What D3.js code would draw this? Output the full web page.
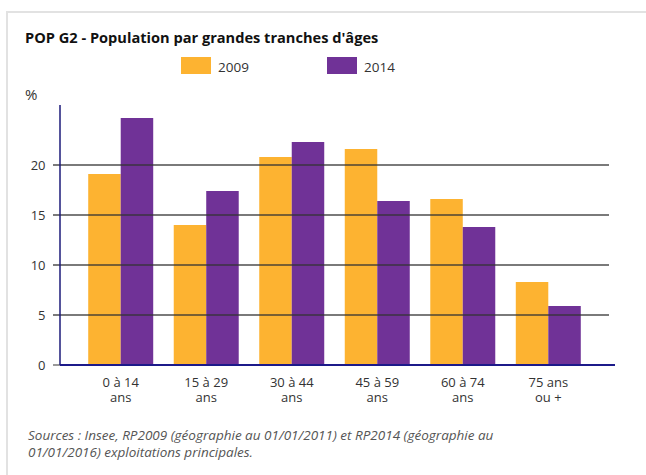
<!DOCTYPE html>
<html lang="fr">
<head>
    <meta charset="UTF-8">
    <title>POP G2 - Population par grandes tranches d'âges</title>
    <script src="https://d3js.org/d3.v7.min.js"></script>
    <style>
        body {
            margin: 0;
            background: #fff;
            font-family: 'Open Sans', sans-serif;
        }
        #chart svg {
            display: block;
        }
        .title {
            font-weight: bold;
            font-size: 14.6px;
            fill: #111;
        }
        .tick-label {
            font-size: 13px;
            fill: #333;
        }
        .legend-label {
            font-size: 13.5px;
            fill: #333;
        }
        .cat-label {
            font-size: 13px;
            fill: #333;
        }
        .source {
            font-size: 13.5px;
            font-style: italic;
            fill: #555;
        }
    </style>
</head>
<body>
    <div id="chart"></div>

    <script>
        const categories = [["0 à 14", "ans"], ["15 à 29", "ans"], ["30 à 44", "ans"], ["45 à 59", "ans"], ["60 à 74", "ans"], ["75 ans", "ou +"]];
        const years = ["2009", "2014"];
        const values2009 = [19.1, 14.0, 20.8, 21.6, 16.6, 8.3];
        const values2014 = [24.7, 17.4, 22.3, 16.4, 13.8, 5.9];
        const yTicks = [0, 5, 10, 15, 20];
        const colors = ["#fdb331", "#703297"];

        const width = 646;
        const height = 475;

        const svg = d3.select("#chart")
            .append("svg")
            .attr("width", width)
            .attr("height", height);

        // card border
        svg.append("path")
            .attr("d", `M7,${height} V12 H${width}`)
            .attr("fill", "none")
            .attr("stroke", "#e2e2e2")
            .attr("stroke-width", 2);

        svg.append("text")
            .attr("class", "title")
            .attr("x", 25)
            .attr("y", 42.5)
            .text("POP G2 - Population par grandes tranches d'âges");

        // legend
        const legend = svg.selectAll(".legend")
            .data(years)
            .join("g")
            .attr("transform", (d, i) => `translate(${181 + i * 146}, 57)`);
        legend.append("rect")
            .attr("width", 30)
            .attr("height", 17)
            .attr("fill", (d, i) => colors[i]);
        legend.append("text")
            .attr("class", "legend-label")
            .attr("x", 37)
            .attr("y", 15)
            .text(d => d);

        svg.append("text")
            .attr("class", "tick-label")
            .attr("x", 25)
            .attr("y", 100)
            .style("font-size", "15px")
            .text("%");

        const x0 = d3.scaleBand()
            .domain(d3.range(categories.length))
            .range([60, 609])
            .paddingInner(0.24)
            .paddingOuter(0.33);

        const x1 = d3.scaleBand()
            .domain(years)
            .range([0, x0.bandwidth()]);

        const y = d3.scaleLinear()
            .domain([0, 26])
            .range([365, 105]);

        const series = [values2009, values2014];

        const groups = svg.selectAll(".group")
            .data(categories)
            .join("g")
            .attr("transform", (d, i) => `translate(${x0(i)},0)`);

        groups.selectAll("rect")
            .data((d, i) => years.map((yr, j) => ({ yr, j, v: series[j][i] })))
            .join("rect")
            .attr("x", d => x1(d.yr))
            .attr("width", x1.bandwidth())
            .attr("y", d => y(d.v))
            .attr("height", d => y(0) - y(d.v))
            .attr("fill", d => colors[d.j]);

        // gridlines over bars, extending left as ticks
        svg.selectAll(".grid")
            .data(yTicks.filter(t => t > 0))
            .join("line")
            .attr("x1", 53)
            .attr("x2", 609)
            .attr("y1", d => y(d))
            .attr("y2", d => y(d))
            .attr("stroke", "rgb(50,50,50)")
            .attr("stroke-opacity", 0.65)
            .attr("stroke-width", 2);

        svg.append("line")
            .attr("x1", 53).attr("x2", 60)
            .attr("y1", y(0)).attr("y2", y(0))
            .attr("stroke", "#777").attr("stroke-width", 1.5);

        svg.selectAll(".ytick")
            .data(yTicks)
            .join("text")
            .attr("class", "tick-label")
            .attr("x", 45.5)
            .attr("y", d => y(d) + 4.5)
            .attr("text-anchor", "end")
            .text(d => d);

        // axes
        svg.append("line")
            .attr("x1", 60).attr("x2", 60)
            .attr("y1", 105).attr("y2", y(0))
            .attr("stroke", "#1c1a7a")
            .attr("stroke-width", 1.5);
        svg.append("line")
            .attr("x1", 60).attr("x2", 615)
            .attr("y1", y(0)).attr("y2", y(0))
            .attr("stroke", "#1c1a8a")
            .attr("stroke-width", 2);

        const cats = svg.selectAll(".cat")
            .data(categories)
            .join("text")
            .attr("class", "cat-label")
            .attr("text-anchor", "middle")
            .attr("transform", (d, i) => `translate(${x0(i) + x0.bandwidth() / 2}, 387)`);
        cats.selectAll("tspan")
            .data(d => d)
            .join("tspan")
            .attr("x", 0)
            .attr("dy", (d, i) => i === 0 ? 0 : 15)
            .text(d => d);

        const sourceLines = [
            "Sources : Insee, RP2009 (géographie au 01/01/2011) et RP2014 (géographie au",
            "01/01/2016) exploitations principales."
        ];
        svg.selectAll(".source")
            .data(sourceLines)
            .join("text")
            .attr("class", "source")
            .attr("x", 28)
            .attr("y", (d, i) => 440 + i * 17)
            .text(d => d);
    </script>
</body>
</html>
